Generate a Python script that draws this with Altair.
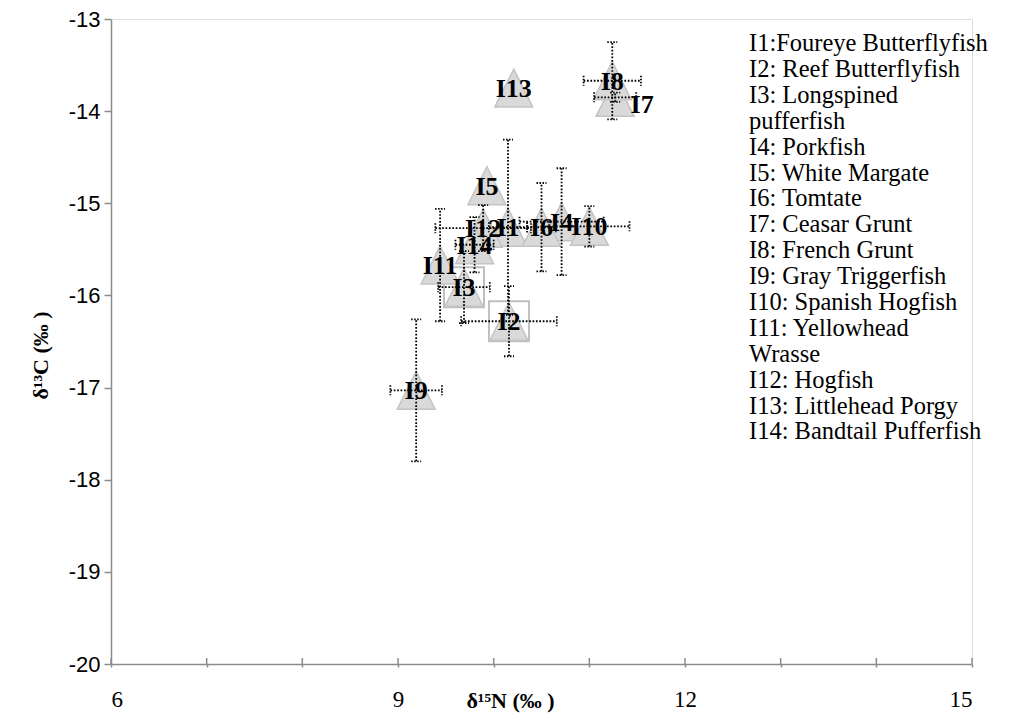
import altair as alt
import pandas as pd

# ---- data ----
labels = ["I1", "I2", "I3", "I4", "I5", "I6", "I7", "I8", "I9", "I10", "I11", "I12", "I13", "I14"]
d15N = [10.15, 10.16, 9.69, 10.71, 9.93, 10.50, 11.27, 11.24, 9.19, 11.00, 9.44, 9.89, 10.21, 9.80]
d13C = [-15.26, -16.28, -15.91, -15.20, -14.81, -15.26, -13.85, -13.67, -17.03, -15.25, -15.67, -15.27, -13.75, -15.45]
err_N = [0.20, 0.50, 0.27, 0.44, 0.00, 0.15, 0.22, 0.30, 0.27, 0.42, 0.00, 0.50, 0.00, 0.20]
err_C = [0.95, 0.38, 0.39, 0.58, 0.00, 0.48, 0.05, 0.42, 0.77, 0.22, 0.61, 0.25, 0.00, 0.30]
boxed = ["I2", "I3"]

x_ticks = [6, 7, 8, 9, 10, 11, 12, 13, 14, 15]
y_ticks = [-13, -14, -15, -16, -17, -18, -19, -20]

legend_lines = [
    "I1:Foureye Butterflyfish",
    "I2: Reef Butterflyfish",
    "I3: Longspined",
    "pufferfish",
    "I4: Porkfish",
    "I5: White Margate",
    "I6: Tomtate",
    "I7: Ceasar Grunt",
    "I8: French Grunt",
    "I9: Gray Triggerfish",
    "I10: Spanish Hogfish",
    "I11: Yellowhead",
    "Wrasse",
    "I12: Hogfish",
    "I13: Littlehead Porgy",
    "I14: Bandtail Pufferfish",
]

W, H = 861, 645
AXIS_GRAY = "#8c8c8c"

df = pd.DataFrame({"label": labels, "N": d15N, "C": d13C, "eN": err_N, "eC": err_C})
df["boxed"] = df["label"].isin(boxed)

xs = alt.Scale(domain=[6, 15], nice=False, zero=False)
ys = alt.Scale(domain=[-20, -13], nice=False, zero=False)

x_axis = alt.Axis(
    values=x_ticks,
    labelExpr="datum.value % 3 == 0 ? '' + datum.value : ''",
    grid=False,
    domainColor=AXIS_GRAY, domainWidth=1.5,
    tickColor=AXIS_GRAY, tickWidth=1.5, tickSize=3,
    labelFont="Liberation Serif", labelFontSize=23, labelColor="#000000",
    labelPadding=21,
    title="δ¹⁵N (‰ )",
    titleFont="Liberation Serif", titleFontSize=22, titleFontWeight="bold",
    titleColor="#000000",
    titleX=399, titleY=36, titleAlign="center", titleBaseline="middle",
    titleAnchor="start",
)
y_axis = alt.Axis(
    values=y_ticks,
    labelExpr="'' + datum.value",
    grid=False,
    domainColor=AXIS_GRAY, domainWidth=1.5,
    tickColor=AXIS_GRAY, tickWidth=1.5, tickSize=7,
    labelFont="Liberation Sans", labelFontSize=22, labelColor="#000000",
    labelPadding=4,
    title="δ¹³C (‰ )",
    titleFont="Liberation Serif", titleFontSize=22, titleFontWeight="bold",
    titleColor="#000000",
    titleX=-71, titleY=336, titleAngle=270, titleAlign="center",
    titleBaseline="middle", titleAnchor="start",
)

base = alt.Chart(df)

triangles = base.mark_point(
    shape="M0,-1L1,1L-1,1Z", size=1444, filled=True,
    fill="#d9d9d9", stroke="#c4c4c4", strokeWidth=1.5, opacity=1,
).encode(
    x=alt.X("N:Q", scale=xs, axis=x_axis),
    y=alt.Y("C:Q", scale=ys, axis=y_axis),
)

squares = base.transform_filter("datum.boxed").mark_point(
    shape="square", size=1600, filled=False, stroke="#c0c0c0", strokeWidth=2, opacity=1,
).encode(x=alt.X("N:Q", scale=xs), y=alt.Y("C:Q", scale=ys))

dash = [1.7, 1.7]
hbars = base.transform_filter("datum.eN > 0").transform_calculate(
    lo="datum.N - datum.eN", hi="datum.N + datum.eN"
).mark_rule(color="#000000", strokeWidth=1.8, strokeDash=dash).encode(
    x=alt.X("lo:Q", scale=xs), x2="hi:Q", y=alt.Y("C:Q", scale=ys)
)
vbars = base.transform_filter("datum.eC > 0").transform_calculate(
    lo="datum.C - datum.eC", hi="datum.C + datum.eC"
).mark_rule(color="#000000", strokeWidth=1.8, strokeDash=dash).encode(
    x=alt.X("N:Q", scale=xs), y=alt.Y("lo:Q", scale=ys), y2="hi:Q"
)

hcaps = base.transform_filter("datum.eN > 0").transform_fold(
    ["lo", "hi"], as_=["end", "v"]
).transform_calculate(
    xv="datum.end == 'lo' ? datum.N - datum.eN : datum.N + datum.eN"
).mark_point(shape="M0,-1L0,1", size=100, filled=False, stroke="#000000",
             strokeWidth=1.8, strokeDash=[1.5, 1.5], opacity=1).encode(
    x=alt.X("xv:Q", scale=xs), y=alt.Y("C:Q", scale=ys)
)
vcaps = base.transform_filter("datum.eC > 0").transform_fold(
    ["lo", "hi"], as_=["end", "v"]
).transform_calculate(
    yv="datum.end == 'lo' ? datum.C - datum.eC : datum.C + datum.eC"
).mark_point(shape="M-1,0L1,0", size=100, filled=False, stroke="#000000",
             strokeWidth=1.8, strokeDash=[1.5, 1.5], opacity=1).encode(
    x=alt.X("N:Q", scale=xs), y=alt.Y("yv:Q", scale=ys)
)

lbl_kw = dict(font="Liberation Serif", fontSize=26, fontWeight="bold", color="#000000",
              align="center", baseline="middle")
labels_main = base.transform_filter("datum.label != 'I7'").mark_text(dy=1, **lbl_kw).encode(
    x=alt.X("N:Q", scale=xs), y=alt.Y("C:Q", scale=ys), text="label:N"
)
labels_i7 = base.transform_filter("datum.label == 'I7'").mark_text(dx=27, dy=8, **lbl_kw).encode(
    x=alt.X("N:Q", scale=xs), y=alt.Y("C:Q", scale=ys), text="label:N"
)

# inner half of the crossing x-axis ticks
tick_df = pd.DataFrame({"t": x_ticks})
inner_ticks = alt.Chart(tick_df).mark_rule(color=AXIS_GRAY, strokeWidth=1.5).encode(
    x=alt.X("t:Q", scale=xs), y=alt.value(H - 6), y2=alt.value(H)
)

legend_df = pd.DataFrame({"txt": ["\n".join(legend_lines)]})
legend = alt.Chart(legend_df).mark_text(
    font="Liberation Serif", fontSize=24.5, color="#000000", align="left",
    baseline="middle", lineBreak="\n", lineHeight=25.9,
).encode(x=alt.value(638), y=alt.value(25), text="txt:N")

chart = alt.layer(
    squares, triangles, hbars, vbars, hcaps, vcaps, inner_ticks,
    labels_main, labels_i7, legend,
).properties(
    width=W, height=H,
    autosize=alt.AutoSizeParams(type="none"),
    padding={"left": 103, "top": 11, "right": 33, "bottom": 50},
).configure_view(stroke=None).configure(background="white")

chart.save("out.html", embed_options={"renderer": "svg", "actions": False})
